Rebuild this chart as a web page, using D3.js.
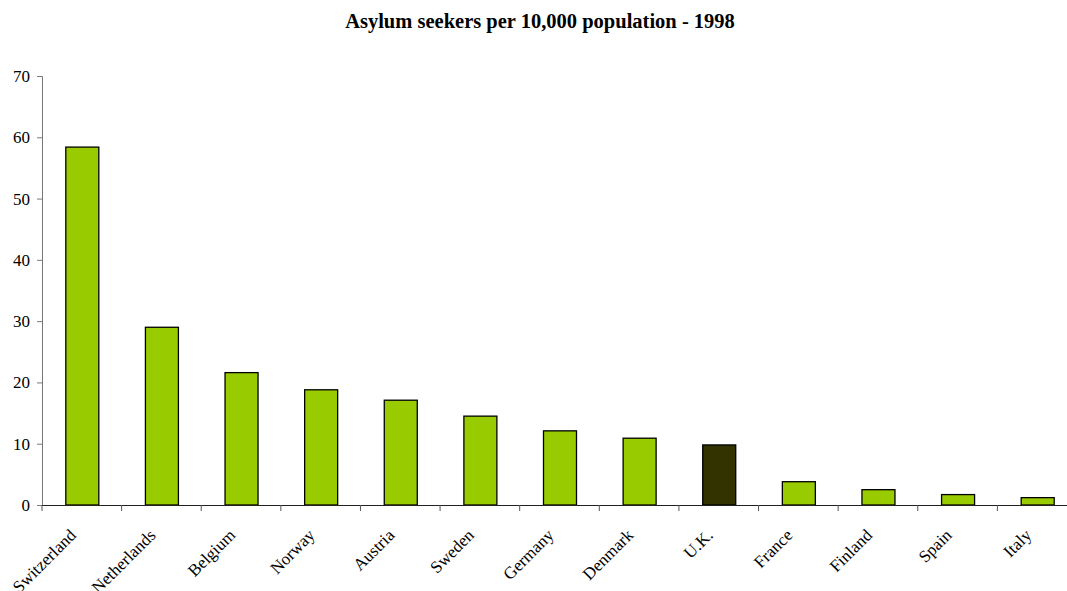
<!DOCTYPE html>
<html><head><meta charset="utf-8">
<script src="https://cdn.jsdelivr.net/npm/d3@7"></script>
<style>body{margin:0;background:#fff}</style>
</head><body>
<script>
const categories = ["Switzerland","Netherlands","Belgium","Norway","Austria","Sweden","Germany","Denmark","U.K.","France","Finland","Spain","Italy"];
const values = [58.4, 29.0, 21.6, 18.8, 17.1, 14.5, 12.1, 10.9, 9.8, 3.8, 2.5, 1.7, 1.2];
const highlight = ["U.K."];
const yTicks = [0,10,20,30,40,50,60,70];

const W = 1067, H = 591;
const svg = d3.select("body").append("svg").attr("width", W).attr("height", H)
  .style("font-family", "'Liberation Serif', 'Times New Roman', serif");

const x = d3.scaleBand().domain(categories).range([42, 1077]).paddingInner(0).paddingOuter(0);
const y = d3.scaleLinear().domain([0, 70]).range([505, 76]);

svg.append("text").attr("x", 540).attr("y", 28).attr("text-anchor", "middle")
  .attr("font-weight", "bold").attr("font-size", 20.5).text("Asylum seekers per 10,000 population - 1998");

const bw = 33;
svg.selectAll("rect.bar").data(categories).join("rect")
  .attr("x", d => x(d) + x.bandwidth()/2 - bw/2 + 0.5)
  .attr("y", (d,i) => y(values[i]))
  .attr("width", bw)
  .attr("height", (d,i) => y(0) - y(values[i]))
  .attr("fill", d => highlight.includes(d) ? "#333300" : "#99cc00")
  .attr("stroke", "#000").attr("stroke-width", 1.3);

const yAxis = svg.append("g").attr("transform", "translate(42,0)")
  .call(d3.axisLeft(y).tickValues(yTicks).tickSize(5).tickPadding(7));
yAxis.select(".domain").attr("stroke", "#777");
yAxis.selectAll(".tick line").attr("stroke", "#777");
yAxis.selectAll("text").attr("font-size", 17).attr("fill", "#000")
  .style("font-family", "'Liberation Serif', serif");

const xAxis = svg.append("g").attr("transform", "translate(0,505)");
xAxis.append("line").attr("x1", 42).attr("x2", 1077).attr("y1", 0.5).attr("y2", 0.5).attr("stroke", "#222");
xAxis.selectAll("line.t").data(d3.range(categories.length + 1)).join("line")
  .attr("x1", i => 42 + i * x.bandwidth()).attr("x2", i => 42 + i * x.bandwidth())
  .attr("y1", 0).attr("y2", 6).attr("stroke", "#555");
xAxis.selectAll("text").data(categories).join("text")
  .attr("transform", d => `translate(${x(d) + x.bandwidth()/2 - 9},${27}) rotate(-45)`)
  .attr("text-anchor", "end").attr("dy", "0.35em").attr("font-size", 17).text(d => d);
</script>
</body></html>
